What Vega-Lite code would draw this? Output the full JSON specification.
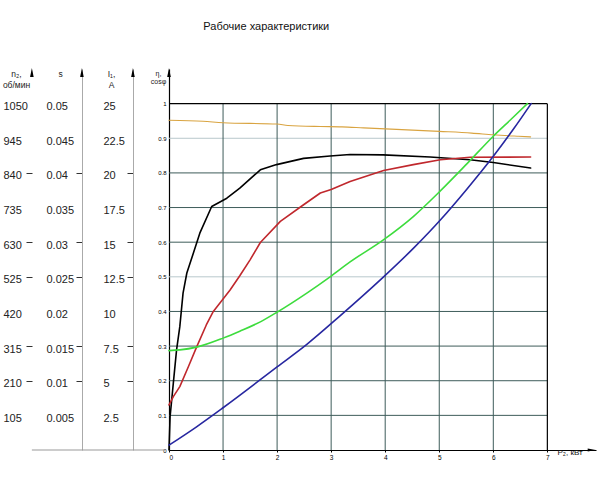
{
  "$schema": "https://vega.github.io/schema/vega-lite/v6.json",
  "width": 427,
  "height": 381,
  "autosize": "none",
  "padding": {"left": 169, "top": 69, "right": 4, "bottom": 30},
  "background": "white",
  "config": {"view": {"stroke": null}, "font": "Liberation Sans", "axis": {"titleFontWeight": "normal", "grid": false}},
  "datasets": {
    "curves": [
      {"k": "n2", "P2": 0, "v": 0.952}, {"k": "n2", "P2": 0.63, "v": 0.949}, {"k": "n2", "P2": 1, "v": 0.945}, {"k": "n2", "P2": 2, "v": 0.941}, {"k": "n2", "P2": 2.2, "v": 0.937}, {"k": "n2", "P2": 2.8, "v": 0.934}, {"k": "n2", "P2": 3.2, "v": 0.933}, {"k": "n2", "P2": 3.6, "v": 0.93}, {"k": "n2", "P2": 5.0, "v": 0.92}, {"k": "n2", "P2": 5.6, "v": 0.915}, {"k": "n2", "P2": 6.0, "v": 0.91}, {"k": "n2", "P2": 6.44, "v": 0.906}, {"k": "n2", "P2": 6.69, "v": 0.904},
      {"k": "eta", "P2": 0, "v": 0}, {"k": "eta", "P2": 0.02, "v": 0.096}, {"k": "eta", "P2": 0.08, "v": 0.193}, {"k": "eta", "P2": 0.14, "v": 0.289}, {"k": "eta", "P2": 0.2, "v": 0.356}, {"k": "eta", "P2": 0.26, "v": 0.453}, {"k": "eta", "P2": 0.33, "v": 0.511}, {"k": "eta", "P2": 0.45, "v": 0.568}, {"k": "eta", "P2": 0.57, "v": 0.626}, {"k": "eta", "P2": 0.79, "v": 0.703}, {"k": "eta", "P2": 1.07, "v": 0.727}, {"k": "eta", "P2": 1.31, "v": 0.756}, {"k": "eta", "P2": 1.69, "v": 0.809}, {"k": "eta", "P2": 1.99, "v": 0.824}, {"k": "eta", "P2": 2.49, "v": 0.842}, {"k": "eta", "P2": 2.98, "v": 0.849}, {"k": "eta", "P2": 3.35, "v": 0.853}, {"k": "eta", "P2": 3.96, "v": 0.852}, {"k": "eta", "P2": 4.83, "v": 0.846}, {"k": "eta", "P2": 5.57, "v": 0.838}, {"k": "eta", "P2": 6.0, "v": 0.83}, {"k": "eta", "P2": 6.69, "v": 0.814},
      {"k": "cosphi", "P2": 0, "v": 0.13}, {"k": "cosphi", "P2": 0.08, "v": 0.154}, {"k": "cosphi", "P2": 0.2, "v": 0.183}, {"k": "cosphi", "P2": 0.36, "v": 0.241}, {"k": "cosphi", "P2": 0.51, "v": 0.297}, {"k": "cosphi", "P2": 0.69, "v": 0.361}, {"k": "cosphi", "P2": 0.82, "v": 0.4}, {"k": "cosphi", "P2": 1.13, "v": 0.462}, {"k": "cosphi", "P2": 1.31, "v": 0.503}, {"k": "cosphi", "P2": 1.5, "v": 0.549}, {"k": "cosphi", "P2": 1.69, "v": 0.599}, {"k": "cosphi", "P2": 2.06, "v": 0.66}, {"k": "cosphi", "P2": 2.49, "v": 0.708}, {"k": "cosphi", "P2": 2.8, "v": 0.742}, {"k": "cosphi", "P2": 3.0, "v": 0.752}, {"k": "cosphi", "P2": 3.35, "v": 0.775}, {"k": "cosphi", "P2": 3.97, "v": 0.807}, {"k": "cosphi", "P2": 4.52, "v": 0.824}, {"k": "cosphi", "P2": 5.02, "v": 0.838}, {"k": "cosphi", "P2": 5.57, "v": 0.845}, {"k": "cosphi", "P2": 6.69, "v": 0.846},
      {"k": "I1", "P2": 0, "v": 0.287}, {"k": "I1", "P2": 0.2, "v": 0.289}, {"k": "I1", "P2": 0.51, "v": 0.297}, {"k": "I1", "P2": 1.0, "v": 0.323}, {"k": "I1", "P2": 1.31, "v": 0.343}, {"k": "I1", "P2": 1.69, "v": 0.37}, {"k": "I1", "P2": 1.99, "v": 0.397}, {"k": "I1", "P2": 2.55, "v": 0.453}, {"k": "I1", "P2": 2.98, "v": 0.5}, {"k": "I1", "P2": 3.35, "v": 0.543}, {"k": "I1", "P2": 3.96, "v": 0.606}, {"k": "I1", "P2": 4.52, "v": 0.674}, {"k": "I1", "P2": 5.02, "v": 0.748}, {"k": "I1", "P2": 5.51, "v": 0.826}, {"k": "I1", "P2": 6.0, "v": 0.906}, {"k": "I1", "P2": 6.31, "v": 0.952}, {"k": "I1", "P2": 6.63, "v": 1.0},
      {"k": "s", "P2": 0, "v": 0.014}, {"k": "s", "P2": 0.51, "v": 0.067}, {"k": "s", "P2": 1.0, "v": 0.122}, {"k": "s", "P2": 2.0, "v": 0.24}, {"k": "s", "P2": 2.55, "v": 0.305}, {"k": "s", "P2": 3.17, "v": 0.388}, {"k": "s", "P2": 3.95, "v": 0.497}, {"k": "s", "P2": 4.52, "v": 0.582}, {"k": "s", "P2": 5.02, "v": 0.664}, {"k": "s", "P2": 5.51, "v": 0.753}, {"k": "s", "P2": 6.0, "v": 0.848}, {"k": "s", "P2": 6.38, "v": 0.928}, {"k": "s", "P2": 6.7, "v": 1.0}
    ],
    "hgrid": [{"y": 0.1}, {"y": 0.2}, {"y": 0.3}, {"y": 0.4}, {"y": 0.5}, {"y": 0.6}, {"y": 0.7}, {"y": 0.8}, {"y": 0.9}],
    "vgrid": [{"x": 1}, {"x": 2}, {"x": 3}, {"x": 4}, {"x": 5}, {"x": 6}]
  },
  "layer": [
    {
      "data": {"name": "hgrid"},
      "mark": {"type": "rule", "strokeWidth": 1},
      "encoding": {
        "y": {"field": "y", "type": "quantitative", "axis": null},
        "x": {"datum": 0, "type": "quantitative", "axis": null},
        "x2": {"datum": 7},
        "color": {"condition": {"test": "datum.y == 0.5 || datum.y == 0.9", "value": "#b8c8cc"}, "value": "#3e5c5a"}
      }
    },
    {
      "data": {"name": "vgrid"},
      "mark": {"type": "rule", "strokeWidth": 1, "color": "#3e5c5a"},
      "encoding": {
        "x": {"field": "x", "type": "quantitative", "axis": null},
        "y": {"datum": 0, "type": "quantitative", "axis": null},
        "y2": {"datum": 1}
      }
    },
    {"data": {"values": [{}]}, "mark": {"type": "rule", "color": "#000", "strokeWidth": 1.2}, "encoding": {"x": {"datum": 0, "type": "quantitative", "axis": null}, "x2": {"datum": 7}, "y": {"datum": 1, "type": "quantitative", "axis": null}}},
    {"data": {"values": [{}]}, "mark": {"type": "rule", "color": "#000", "strokeWidth": 1.2}, "encoding": {"x": {"datum": 7, "type": "quantitative", "axis": null}, "y": {"datum": 0, "type": "quantitative", "axis": null}, "y2": {"datum": 1}}},
    {"data": {"values": [{}]}, "mark": {"type": "rule", "color": "#999", "strokeWidth": 1}, "encoding": {"x": {"datum": -2.537, "type": "quantitative", "axis": null}, "x2": {"datum": -0.07}, "y": {"datum": 0, "type": "quantitative", "axis": null}}},
    {"data": {"values": [{}]}, "mark": {"type": "point", "shape": "M0,-1L0.4,1L-0.4,1Z", "size": 81, "filled": true, "color": "#000", "opacity": 1}, "encoding": {"x": {"datum": 0, "type": "quantitative", "axis": null}, "y": {"datum": 1.09, "type": "quantitative", "axis": null}}},
    {"data": {"values": [{}]}, "mark": {"type": "point", "shape": "M0,-1L0.4,1L-0.4,1Z", "size": 81, "filled": true, "color": "#000", "opacity": 1}, "encoding": {"x": {"datum": -0.667, "type": "quantitative", "axis": null}, "y": {"datum": 1.09, "type": "quantitative", "axis": null}}},
    {"data": {"values": [{}]}, "mark": {"type": "point", "shape": "M0,-1L0.4,1L-0.4,1Z", "size": 81, "filled": true, "color": "#000", "opacity": 1}, "encoding": {"x": {"datum": -1.611, "type": "quantitative", "axis": null}, "y": {"datum": 1.09, "type": "quantitative", "axis": null}}},
    {"data": {"values": [{}]}, "mark": {"type": "point", "shape": "M0,-1L0.4,1L-0.4,1Z", "size": 81, "filled": true, "color": "#000", "opacity": 1}, "encoding": {"x": {"datum": -2.537, "type": "quantitative", "axis": null}, "y": {"datum": 1.09, "type": "quantitative", "axis": null}}},
    {"data": {"values": [{}]}, "mark": {"type": "point", "shape": "M1,0L-1,-0.4L-1,0.4Z", "size": 64, "filled": true, "color": "#000", "opacity": 1}, "encoding": {"x": {"datum": 7.82, "type": "quantitative", "axis": null}, "y": {"datum": 0, "type": "quantitative", "axis": null}}},
    {"data": {"values": [{}]}, "mark": {"type": "text", "fontSize": 11, "align": "center", "baseline": "middle", "color": "#111"}, "encoding": {"x": {"datum": 1.8, "type": "quantitative", "axis": null}, "y": {"datum": 1.22, "type": "quantitative", "axis": null}, "text": {"value": "Рабочие характеристики"}}},
    {"data": {"values": [{}]}, "mark": {"type": "text", "fontSize": 8, "align": "center", "baseline": "middle", "dy": 3, "color": "#111"}, "encoding": {"x": {"datum": 7.42, "type": "quantitative", "axis": null}, "y": {"datum": 0, "type": "quantitative", "axis": null}, "text": {"value": "P₂, кВт"}}},
    {
      "data": {"name": "curves"},
      "transform": [{"filter": "datum.k == 'eta' || datum.k == 'cosphi'"}],
      "mark": {"type": "line", "interpolate": "linear", "strokeCap": "round", "strokeJoin": "round", "strokeWidth": 1.6},
      "encoding": {
        "x": {"field": "P2", "type": "quantitative", "axis": null},
        "y": {"field": "v", "type": "quantitative", "axis": null},
        "color": {"field": "k", "type": "nominal", "legend": null,
          "scale": {"domain": ["n2", "eta", "cosphi", "I1", "s"], "range": ["#d9a441", "#000000", "#c0282d", "#3ddc3d", "#2727a0"]}}
      }
    },
    {
      "data": {"name": "curves"},
      "transform": [{"filter": "datum.k != 'eta' && datum.k != 'cosphi'"}],
      "mark": {"type": "line", "interpolate": "monotone", "strokeCap": "round", "strokeJoin": "round"},
      "encoding": {
        "x": {"field": "P2", "type": "quantitative", "scale": {"domain": [0, 7.9], "nice": false, "zero": true},
          "axis": {"values": [0, 1, 2, 3, 4, 5, 6, 7], "format": "d", "labelFontSize": 6.5, "labelPadding": 2, "tickSize": 2, "tickColor": "#000", "labelColor": "#000", "domainColor": "#000", "domainWidth": 1.2, "title": null}},
        "y": {"field": "v", "type": "quantitative", "scale": {"domain": [0, 1.1], "nice": false, "zero": true},
          "axis": {"orient": "left", "values": [0, 0.1, 0.2, 0.3, 0.4, 0.5, 0.6, 0.7, 0.8, 0.9, 1], "format": ".2~g", "labelFontSize": 6, "labelPadding": 3, "ticks": false, "labelColor": "#000", "domainColor": "#000", "domainWidth": 1.2,
            "title": ["η,", "cosφ"], "titleAngle": 0, "titleAlign": "center", "titleBaseline": "top", "titleX": -11, "titleY": 0, "titleFontSize": 7, "titleLineHeight": 8, "titleColor": "#222"}},
        "color": {"field": "k", "type": "nominal", "legend": null,
          "scale": {"domain": ["n2", "eta", "cosphi", "I1", "s"], "range": ["#d9a441", "#000000", "#c0282d", "#3ddc3d", "#2727a0"]}},
        "strokeWidth": {"condition": {"test": "datum.k == 'n2'", "value": 1.1}, "value": 1.6}
      }
    },
    {
      "data": {"name": "hgrid"},
      "mark": {"type": "point", "opacity": 0},
      "encoding": {
        "y": {"field": "y", "type": "quantitative",
          "axis": {"orient": "left", "offset": 137, "values": [0.1, 0.2, 0.3, 0.4, 0.5, 0.6, 0.7, 0.8, 0.9, 1], "labelExpr": "format(datum.value * 1050, 'd')", "domain": false,
            "labelAlign": "left", "labelBaseline": "middle", "labelOffset": 3, "labelFontSize": 11, "labelPadding": 23, "labelColor": "#222",
            "tickSize": 6, "tickColor": "#333", "tickOpacity": {"condition": {"test": "datum.value == 0.8 || datum.value == 0.6 || datum.value == 0.5 || datum.value == 0.3 || datum.value == 0.2", "value": 1}, "value": 0},
            "title": ["n₂,", "об/мин"], "titleAngle": 0, "titleAlign": "center", "titleBaseline": "top", "titleX": -16, "titleY": 0, "titleFontSize": 8.5, "titleLineHeight": 11, "titleColor": "#222"}}
      }
    },
    {
      "data": {"name": "hgrid"},
      "mark": {"type": "point", "opacity": 0},
      "encoding": {
        "y": {"field": "y", "type": "quantitative",
          "axis": {"orient": "left", "offset": 87, "values": [0.1, 0.2, 0.3, 0.4, 0.5, 0.6, 0.7, 0.8, 0.9, 1], "labelExpr": "format(datum.value * 0.05, '.3~g')", "domainColor": "#aaa", "domainWidth": 1,
            "labelAlign": "left", "labelBaseline": "middle", "labelOffset": 3, "labelFontSize": 11, "labelPadding": 30, "labelColor": "#222",
            "tickSize": 6, "tickColor": "#333", "tickOpacity": {"condition": {"test": "datum.value == 0.8 || datum.value == 0.6 || datum.value == 0.5 || datum.value == 0.3 || datum.value == 0.2", "value": 1}, "value": 0},
            "title": "s", "titleAngle": 0, "titleAlign": "center", "titleBaseline": "top", "titleX": -22, "titleY": 0, "titleFontSize": 8.5, "titleColor": "#222"}}
      }
    },
    {
      "data": {"name": "hgrid"},
      "mark": {"type": "point", "opacity": 0},
      "encoding": {
        "y": {"field": "y", "type": "quantitative",
          "axis": {"orient": "left", "offset": 36, "values": [0.1, 0.2, 0.3, 0.4, 0.5, 0.6, 0.7, 0.8, 0.9, 1], "labelExpr": "format(datum.value * 25, '.3~g')", "domainColor": "#aaa", "domainWidth": 1,
            "labelAlign": "left", "labelBaseline": "middle", "labelOffset": 3, "labelFontSize": 11, "labelPadding": 24, "labelColor": "#222",
            "tickSize": 6, "tickColor": "#333", "tickOpacity": {"condition": {"test": "datum.value == 0.8 || datum.value == 0.6 || datum.value == 0.5 || datum.value == 0.3 || datum.value == 0.2", "value": 1}, "value": 0},
            "title": ["I₁,", "A"], "titleAngle": 0, "titleAlign": "center", "titleBaseline": "top", "titleX": -22, "titleY": 0, "titleFontSize": 8.5, "titleLineHeight": 11, "titleColor": "#222"}}
      }
    }
  ],
  "resolve": {"axis": {"x": "independent", "y": "independent"}}
}
